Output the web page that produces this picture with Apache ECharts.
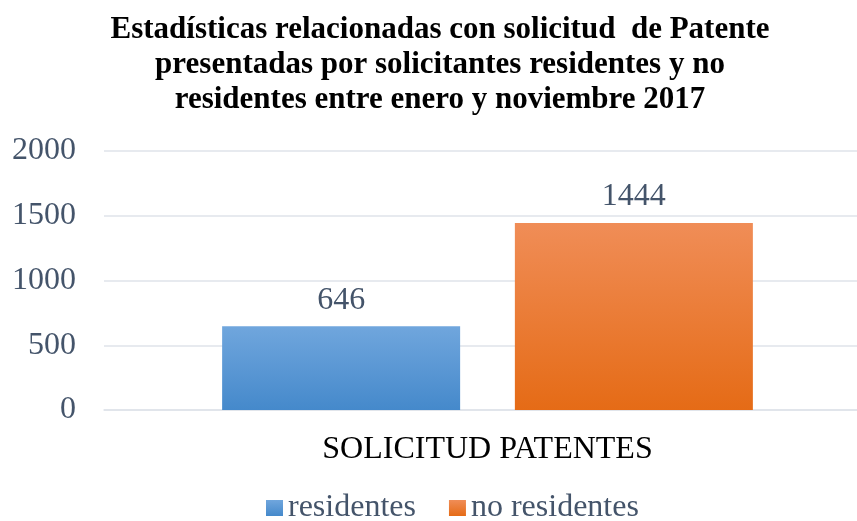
<!DOCTYPE html>
<html>
<head>
<meta charset="utf-8">
<script src="https://cdn.jsdelivr.net/npm/echarts@6/dist/echarts.min.js"></script>
<style>
  html, body { margin: 0; padding: 0; background: #fff; }
  #chart { width: 857px; height: 521px; }
</style>
</head>
<body>
<div id="chart"></div>
<script>
const titleText = 'Estadísticas relacionadas con solicitud  de Patente\npresentadas por solicitantes residentes y no\nresidentes entre enero y noviembre 2017'
const categories = ['SOLICITUD PATENTES']
const seriesNames = ['residentes', 'no residentes']
const residentes = [646]
const noResidentes = [1444]
const yTicks = [0, 500, 1000, 1500, 2000]

const textColor = '#44546a'
const lineColor = '#dfe3ea'
const font = '"Liberation Serif", "Times New Roman", serif'

const grad = (top, bottom) => new echarts.graphic.LinearGradient(0, 0, 0, 1, [
  { offset: 0, color: top },
  { offset: 1, color: bottom }
])

const chart = echarts.init(document.getElementById('chart'))
chart.setOption({
  animation: false,
  textStyle: { fontFamily: font },
  title: {
    text: titleText,
    left: 440,
    top: 12,
    padding: 0,
    textAlign: 'center',
    textStyle: { fontFamily: font, fontSize: 31, fontWeight: 'bold', color: '#000', lineHeight: 35 }
  },
  legend: {
    top: 492,
    left: 266,
    padding: 0,
    itemWidth: 17,
    itemHeight: 16,
    itemGap: 33,
    icon: 'rect',
    textStyle: { fontFamily: font, fontSize: 32, color: textColor },
    data: seriesNames
  },
  grid: { left: 104, top: 151, width: 767, height: 259, outerBoundsMode: 'none', containLabel: false },
  xAxis: {
    type: 'category',
    data: categories,
    axisLine: { lineStyle: { color: lineColor, width: 1.5 } },
    axisTick: { show: false },
    axisLabel: { fontFamily: font, fontSize: 32, color: '#000', margin: 24 }
  },
  yAxis: {
    type: 'value',
    min: yTicks[0],
    max: yTicks[yTicks.length - 1],
    interval: 500,
    axisLine: { show: false },
    axisTick: { show: false },
    axisLabel: { fontFamily: font, fontSize: 32, color: textColor, margin: 28, formatter: (v) => String(v) },
    splitLine: { lineStyle: { color: lineColor, width: 1.5 } }
  },
  series: [
    {
      name: seriesNames[0],
      type: 'bar',
      data: residentes,
      barWidth: 238,
      barGap: '23%',
      itemStyle: { color: grad('#70a6dd', '#4589cb') },
      label: { show: true, position: 'top', distance: 10, fontFamily: font, fontSize: 32, color: textColor }
    },
    {
      name: seriesNames[1],
      type: 'bar',
      data: noResidentes,
      barWidth: 238,
      itemStyle: { color: grad('#f08d57', '#e56b16') },
      label: { show: true, position: 'top', distance: 10, fontFamily: font, fontSize: 32, color: textColor }
    }
  ]
})
</script>
</body>
</html>
